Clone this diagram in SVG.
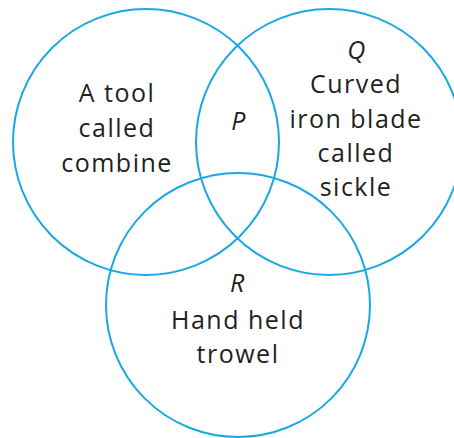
<svg xmlns="http://www.w3.org/2000/svg" width="454" height="438" viewBox="0 0 454 438">
<style>
.c{fill:none;stroke:#1aa8e4;stroke-width:2}
.t{font-family:"Open Sans","Noto Sans",sans-serif;font-size:25px;fill:#231f20;text-anchor:middle;letter-spacing:1.5px}
.i{font-style:italic}
</style>
<rect width="454" height="438" fill="#fff"/>
<g id="circleLeft">
<circle class="c" cx="146" cy="142" r="133"/>
<text class="t" x="117" y="102">A tool</text>
<text class="t" x="117" y="137">called</text>
<text class="t" x="117" y="172">combine</text>
</g>
<g id="circleRight">
<circle class="c" cx="329" cy="142" r="133"/>
<text class="t i" x="357" y="59">Q</text>
<text class="t" x="356" y="93">Curved</text>
<text class="t" x="356" y="128">iron blade</text>
<text class="t" x="356" y="162">called</text>
<text class="t" x="356" y="196">sickle</text>
</g>
<g id="circleBottom">
<circle class="c" cx="238" cy="305" r="132"/>
<text class="t i" x="238" y="292">R</text>
<text class="t" x="238" y="329">Hand held</text>
<text class="t" x="238" y="363">trowel</text>
</g>
<g id="intersection">
<text class="t i" x="239" y="130">P</text>
</g>
<g id="connectors"></g>
</svg>
